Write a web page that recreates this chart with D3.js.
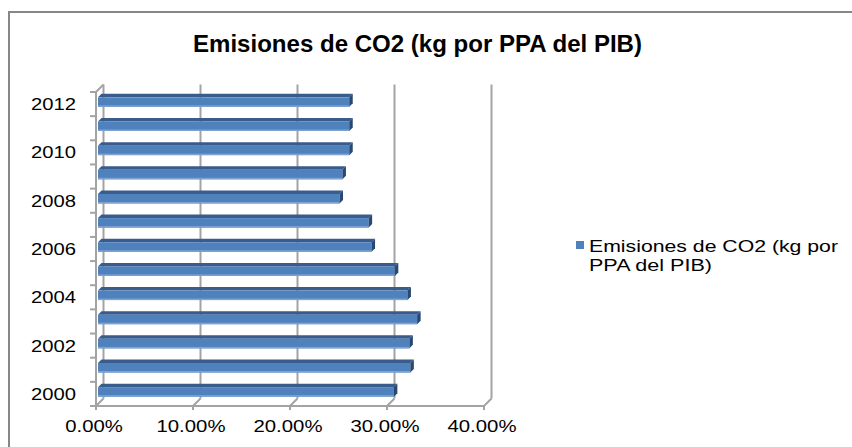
<!DOCTYPE html>
<html>
<head>
<meta charset="utf-8">
<script src="https://cdn.jsdelivr.net/npm/d3@7"></script>
<style>
  html, body { margin: 0; padding: 0; background: #fff; }
  svg { display: block; font-family: "Liberation Sans", Arial, sans-serif; }
</style>
</head>
<body>
<svg id="chart" width="852" height="447"></svg>
<script>
// Emisiones de CO2 (kg por PPA del PIB), 2000–2012
const years = [2000, 2001, 2002, 2003, 2004, 2005, 2006, 2007, 2008, 2009, 2010, 2011, 2012];
const emissions = [0.305, 0.322, 0.321, 0.329, 0.319, 0.306, 0.282, 0.279, 0.249, 0.252, 0.259, 0.259, 0.259];
const xTicks = [0, 0.1, 0.2, 0.3, 0.4];
const yLabelYears = [2000, 2002, 2004, 2006, 2008, 2010, 2012];
const titleText = "Emisiones de CO2 (kg por PPA del PIB)";
const legendLines = ["Emisiones de CO2 (kg por", "PPA del PIB)"];

const svg = d3.select("#chart");

// outer chart frame (left and top edges)
svg.append("path")
  .attr("d", "M9,447 V12 H852")
  .attr("fill", "none")
  .attr("stroke", "#878787")
  .attr("stroke-width", 2);

// 3D plot geometry: front plane scales plus a depth offset toward the back wall
const x = d3.scaleLinear().domain([0, 0.4]).range([96, 484]);
const y = d3.scaleBand().domain(years.slice().reverse()).range([92, 406]).paddingInner(0).paddingOuter(0);
const depth = 7.5;             // wall depth (px to the right and up)
const floorY = 406, topY = 92;
const gridColor = "#a3a3a3";

const walls = svg.append("g").attr("fill", "none").attr("stroke", gridColor).attr("stroke-width", 2);

// back-wall gridlines
walls.selectAll("line.grid").data(xTicks).join("line")
  .attr("class", "grid")
  .attr("x1", d => x(d) + depth).attr("x2", d => x(d) + depth)
  .attr("y1", topY - depth).attr("y2", floorY - depth);

// floor: diagonals from the front ticks to the back gridlines, and front edge
walls.selectAll("line.floor").data(xTicks).join("line")
  .attr("class", "floor")
  .attr("x1", d => x(d)).attr("y1", floorY)
  .attr("x2", d => x(d) + depth).attr("y2", floorY - depth);
walls.append("line")
  .attr("x1", x(0)).attr("x2", x(0.4)).attr("y1", floorY).attr("y2", floorY);

// left wall: front vertical axis and top edge
walls.append("line")
  .attr("x1", x(0)).attr("x2", x(0)).attr("y1", topY).attr("y2", floorY + 4);
walls.append("line")
  .attr("x1", x(0)).attr("y1", topY).attr("x2", x(0) + depth).attr("y2", topY - depth);

// category tick marks on the vertical axis
const boundaries = years.map(yr => y(yr)).concat([floorY]);
walls.selectAll("line.ytick").data(boundaries).join("line")
  .attr("class", "ytick")
  .attr("x1", x(0) - 6).attr("x2", x(0))
  .attr("y1", d => d).attr("y2", d => d);

// value tick marks below the floor
walls.selectAll("line.xtick").data(xTicks).join("line")
  .attr("class", "xtick")
  .attr("x1", d => x(d)).attr("x2", d => x(d))
  .attr("y1", floorY).attr("y2", floorY + 4);

// bars as 3D boxes
const d1 = 2, d2 = 5.5, barH = 9.5;
const bars = svg.append("g");
years.forEach((yr, i) => {
  const v = emissions[i];
  const cy = y(yr) + y.bandwidth() / 2;
  const top = cy - barH / 2 - d1, bot = cy + barH / 2 - d1;
  const xs = x(0) + d1, xe = x(v) + d1;
  const k = d2 - d1;
  const g = bars.append("g");
  // top face
  g.append("path")
    .attr("d", `M${xs},${top} L${xs + k},${top - k} L${xe + k},${top - k} L${xe},${top} Z`)
    .attr("fill", "#385d8c");
  // front face
  g.append("rect")
    .attr("x", xs).attr("y", top)
    .attr("width", xe - xs).attr("height", barH)
    .attr("fill", "#4f81bd");
  // lower highlight edge
  g.append("rect")
    .attr("x", xs).attr("y", bot - 1.5)
    .attr("width", xe - xs).attr("height", 1.5)
    .attr("fill", "#7ea3d2");
  // right end face
  g.append("path")
    .attr("d", `M${xe},${top} L${xe + k},${top - k} L${xe + k},${bot - k} L${xe},${bot} Z`)
    .attr("fill", "#284772");
});

// year labels
svg.append("g").selectAll("text").data(yLabelYears).join("text")
  .attr("x", 76)
  .attr("y", d => y(d) + y.bandwidth() / 2 + 6)
  .attr("text-anchor", "end")
  .attr("font-size", 17)
  .attr("fill", "#000")
  .attr("textLength", 45)
  .attr("lengthAdjust", "spacingAndGlyphs")
  .text(d => d);

// percent labels
const pct = d3.format(".2%");
svg.append("g").selectAll("text").data(xTicks).join("text")
  .attr("x", d => x(d) - 2)
  .attr("y", 432)
  .attr("text-anchor", "middle")
  .attr("font-size", 17)
  .attr("fill", "#000")
  .attr("textLength", d => pct(d).length * 11.5)
  .attr("lengthAdjust", "spacingAndGlyphs")
  .text(d => pct(d));

// title
svg.append("text")
  .attr("x", 417.5).attr("y", 52)
  .attr("text-anchor", "middle")
  .attr("font-size", 24)
  .attr("font-weight", "bold")
  .attr("fill", "#000")
  .attr("textLength", 449)
  .attr("lengthAdjust", "spacingAndGlyphs")
  .text(titleText);

// legend
const legend = svg.append("g");
legend.append("rect")
  .attr("x", 576).attr("y", 241).attr("width", 8).attr("height", 8)
  .attr("fill", "#4f81bd");
legend.selectAll("text").data(legendLines).join("text")
  .attr("x", 589)
  .attr("y", (d, i) => 252 + i * 18.5)
  .attr("font-size", 16.5)
  .attr("fill", "#000")
  .attr("textLength", (d, i) => i === 0 ? 249 : 123)
  .attr("lengthAdjust", "spacingAndGlyphs")
  .text(d => d);
</script>
</body>
</html>
